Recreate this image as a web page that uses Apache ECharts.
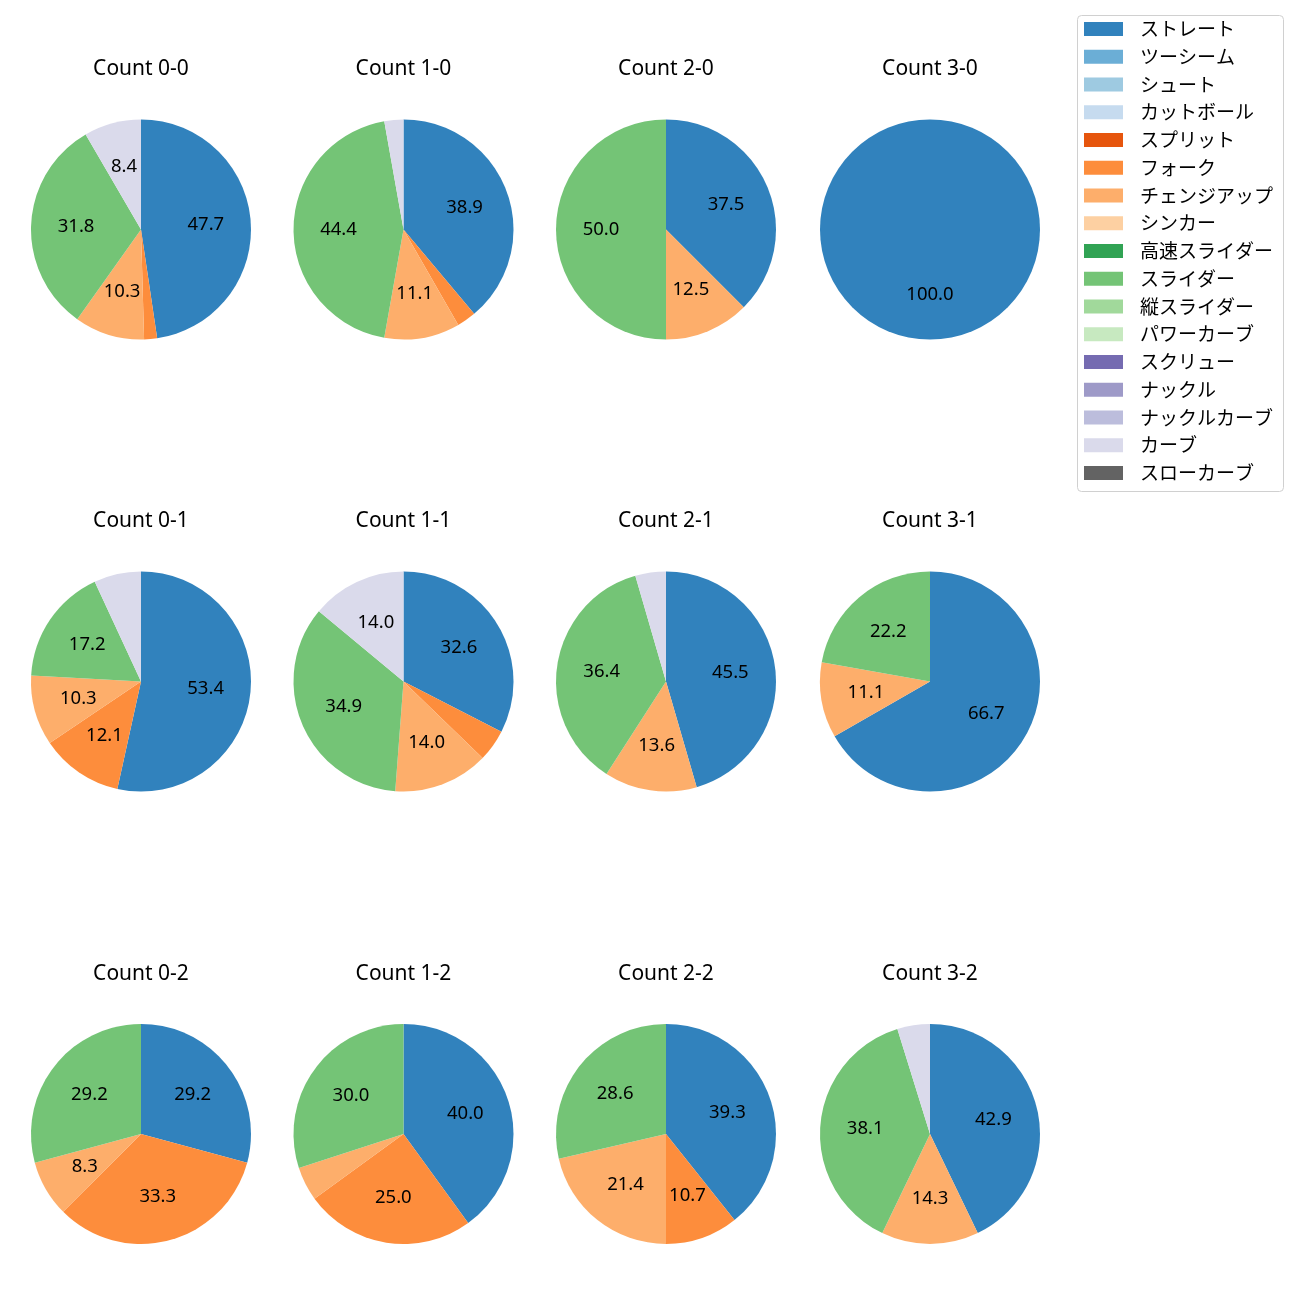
<!DOCTYPE html>
<html>
<head>
<meta charset="utf-8">
<script src="https://cdn.jsdelivr.net/npm/echarts@6/dist/echarts.min.js"></script>
<style>html,body{margin:0;padding:0;background:#fff}#c{width:1300px;height:1300px}</style>
</head>
<body>
<div id="c"></div>
<script>
const pitchTypes = ['ストレート','ツーシーム','シュート','カットボール','スプリット','フォーク','チェンジアップ','シンカー','高速スライダー','スライダー','縦スライダー','パワーカーブ','スクリュー','ナックル','ナックルカーブ','カーブ','スローカーブ'];
const pitchColors = ['#3182bd','#6baed6','#9ecae1','#c6dbef','#e6550d','#fd8d3c','#fdae6b','#fdd0a2','#31a354','#74c476','#a1d99b','#c7e9c0','#756bb1','#9e9ac8','#bcbddc','#dadaeb','#636363'];
const countLabels = ['0-0','1-0','2-0','3-0','0-1','1-1','2-1','3-1','0-2','1-2','2-2','3-2'];

// percentage per pitch type, in countLabels order
const straight   = [47.7, 38.9, 37.5, 100.0, 53.4, 32.6, 45.5, 66.7, 29.2, 40.0, 39.3, 42.9];
const fork       = [ 1.9,  2.8,  0.0,   0.0, 12.1,  4.7,  0.0,  0.0, 33.3, 25.0, 10.7,  0.0];
const changeup   = [10.3, 11.1, 12.5,   0.0, 10.3, 14.0, 13.6, 11.1,  8.3,  5.0, 21.4, 14.3];
const slider     = [31.8, 44.4, 50.0,   0.0, 17.2, 34.9, 36.4, 22.2, 29.2, 30.0, 28.6, 38.1];
const curve      = [ 8.4,  2.8,  0.0,   0.0,  6.9, 14.0,  4.5,  0.0,  0.0,  0.0,  0.0,  4.8];

const seriesByType = {
  'ストレート': straight,
  'フォーク': fork,
  'チェンジアップ': changeup,
  'スライダー': slider,
  'カーブ': curve
};

const LATIN = '"Noto Sans", "Noto Sans CJK JP", sans-serif';
const CJK = '"Noto Sans CJK JP", "Noto Sans", sans-serif';
const colX = [141, 403.5, 666, 930];
const rowY = [229.5, 681.5, 1134];
const R = 110;
const labelMin = 7.5;

const series = [];
const titles = [];
countLabels.forEach((cl, i) => {
  const cx = colX[i % 4], cy = rowY[Math.floor(i / 4)];
  const data = pitchTypes.map((name, k) => ({
    name: name,
    value: seriesByType[name] ? seriesByType[name][i] : 0,
    itemStyle: { color: pitchColors[k] }
  }));
  series.push({
    type: 'pie', center: [cx, cy], radius: [0, R], startAngle: 90, clockwise: true,
    data: data, label: { show: false }, labelLine: { show: false },
    itemStyle: { borderWidth: 0 }, silent: true, emphasis: { disabled: true },
    avoidLabelOverlap: false
  });
  series.push({
    type: 'pie', center: [cx, cy], radius: [14, R], startAngle: 90, clockwise: true,
    data: data.map(d => ({ name: d.name, value: d.value, itemStyle: { color: 'rgba(0,0,0,0)' } })),
    label: {
      show: true, position: 'inside', color: '#000', fontSize: 18.5, fontFamily: LATIN,
      formatter: p => (p.value >= labelMin ? p.value.toFixed(1) : '')
    },
    labelLine: { show: false }, silent: true, emphasis: { disabled: true },
    avoidLabelOverlap: false, z: 3
  });
  titles.push({
    text: 'Count ' + cl, left: cx, top: cy - 172, textAlign: 'center', padding: 0,
    textStyle: { fontSize: 21, fontWeight: 'normal', color: '#000', fontFamily: LATIN, lineHeight: 24 }
  });
});

const chart = echarts.init(document.getElementById('c'), null, { renderer: 'canvas' });
chart.setOption({
  backgroundColor: '#fff',
  animation: false,
  title: titles,
  legend: {
    orient: 'vertical', left: 1077, top: 15,
    padding: [4.5, 0, 0, 7],
    itemWidth: 39, itemHeight: 14, itemGap: 8.75,
    icon: 'rect',
    data: pitchTypes.map((n, k) => ({ name: n, itemStyle: { color: pitchColors[k] } })),
    textStyle: { fontSize: 19, color: '#000', fontFamily: CJK, lineHeight: 19, padding: [0, 0, 0, 12] },
    selectedMode: false
  },
  graphic: [{
    type: 'rect', left: 1077, top: 15, z: -1, silent: true,
    shape: { width: 206, height: 476, r: 4 },
    style: { fill: 'rgba(255,255,255,0.8)', stroke: '#d0d0d0', lineWidth: 1 }
  }],
  series: series
});
</script>
</body>
</html>
